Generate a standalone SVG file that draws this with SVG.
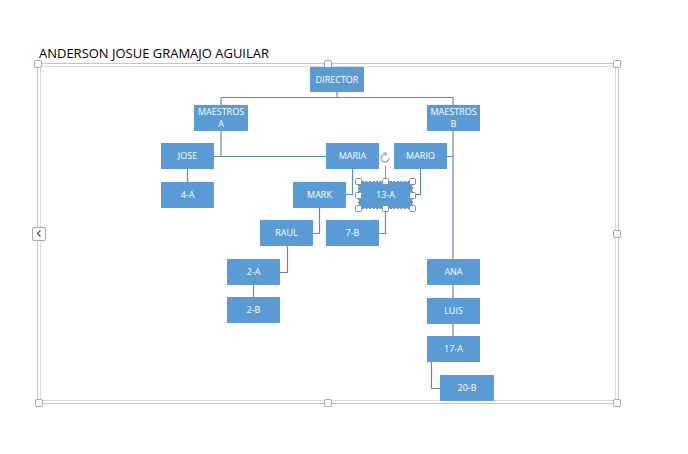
<svg xmlns="http://www.w3.org/2000/svg" width="688" height="454" viewBox="0 0 688 454">
<style>
.n{fill:#5b9bd5}
.t{font-family:"Open Sans","Liberation Sans",Arial,sans-serif;font-size:9px;fill:#ffffff;text-anchor:middle}
.c{fill:none;stroke:#5a8ac6;stroke-width:1.2}
.h{fill:#ffffff;stroke:#a6a6a6;stroke-width:1}
.sel{fill:#ffffff;stroke:#8c8c8c;stroke-width:1}
</style>
<rect width="688" height="454" fill="#ffffff"/>
<text x="39" y="58" font-family="Open Sans,Liberation Sans,Arial,sans-serif" font-size="12.4" fill="#000000" textLength="230" lengthAdjust="spacingAndGlyphs">ANDERSON JOSUE GRAMAJO AGUILAR</text>
<g id="frame">
<rect x="37.5" y="63.5" width="581" height="340" fill="none" stroke="#c4c4c4"/>
<rect x="40.5" y="66.5" width="575" height="334" fill="none" stroke="#dadada"/>
<rect class="h" x="34.5" y="60.5" width="7" height="7" rx="1.5"/>
<rect class="h" x="324.5" y="60.5" width="7" height="7" rx="1.5"/>
<rect class="h" x="613.5" y="60.5" width="7" height="7" rx="1.5"/>
<rect class="h" x="35.5" y="399.5" width="7" height="7" rx="1.5"/>
<rect class="h" x="324.5" y="399.5" width="7" height="7" rx="1.5"/>
<rect class="h" x="613.5" y="399.5" width="7" height="7" rx="1.5"/>
<rect class="h" x="613.5" y="230.5" width="7" height="7" rx="1.5"/>
<rect class="h" x="32.5" y="227.5" width="13" height="13" rx="1.5"/>
<path d="M40.5 230.5 L37.5 233.5 L40.5 236.5" fill="none" stroke="#555555" stroke-width="1.4"/>
</g>
<g id="connectors">
<path class="c" d="M337 92 V97.5 M221 97.5 H453 M221 97.5 V105 M453 97.5 V105"/>
<path class="c" d="M221 131 V156.5 M214 156.5 H326"/>
<path class="c" d="M453 131 V259 M447 156.5 H453"/>
<path class="c" d="M187.5 169 V182"/>
<path class="c" d="M352.5 169 V194.5 H346"/>
<path class="c" d="M420.5 169 V194.5 H412"/>
<path class="c" d="M319.5 208 V233.5 H313"/>
<path class="c" d="M385.5 208 V233.5 H379"/>
<path class="c" d="M287.5 246 V272.5 H280"/>
<path class="c" d="M253.5 285 V297"/>
<path class="c" d="M453 285 V298 M453 324 V336"/>
<path class="c" d="M431.5 362 V388.5 H440"/>
</g>
<g id="director"><rect class="n" x="310" y="67" width="54" height="25"/><text class="t" x="337" y="82.5">DIRECTOR</text></g>
<g id="maestros-a"><rect class="n" x="194" y="105" width="54" height="26"/><text class="t" x="221" y="115">MAESTROS</text><text class="t" x="221" y="126.5">A</text></g>
<g id="maestros-b"><rect class="n" x="427" y="105" width="53" height="26"/><text class="t" x="453.5" y="115">MAESTROS</text><text class="t" x="453.5" y="126.5">B</text></g>
<g id="jose"><rect class="n" x="161" y="143" width="53" height="26"/><text class="t" x="187.5" y="159">JOSE</text></g>
<g id="maria"><rect class="n" x="326" y="143" width="53" height="26"/><text class="t" x="352.5" y="159">MARIA</text></g>
<g id="mario"><rect class="n" x="394" y="143" width="53" height="26"/><text class="t" x="420.5" y="159">MARIO</text></g>
<g id="n4a"><rect class="n" x="161" y="182" width="53" height="26"/><text class="t" x="187.5" y="198">4-A</text></g>
<g id="mark"><rect class="n" x="293" y="182" width="53" height="26"/><text class="t" x="319.5" y="198">MARK</text></g>
<g id="n13a"><rect class="n" x="359" y="182" width="53" height="26"/><text class="t" x="385.5" y="198">13-A</text></g>
<g id="raul"><rect class="n" x="260" y="220" width="53" height="26"/><text class="t" x="286.5" y="236">RAUL</text></g>
<g id="n7b"><rect class="n" x="326" y="220" width="53" height="26"/><text class="t" x="352.5" y="236">7-B</text></g>
<g id="n2a"><rect class="n" x="227" y="259" width="53" height="26"/><text class="t" x="253.5" y="275">2-A</text></g>
<g id="n2b"><rect class="n" x="227" y="297" width="53" height="26"/><text class="t" x="253.5" y="313">2-B</text></g>
<g id="ana"><rect class="n" x="427" y="259" width="53" height="26"/><text class="t" x="453.5" y="275">ANA</text></g>
<g id="luis"><rect class="n" x="427" y="298" width="53" height="26"/><text class="t" x="453.5" y="314">LUIS</text></g>
<g id="n17a"><rect class="n" x="427" y="336" width="53" height="26"/><text class="t" x="453.5" y="352">17-A</text></g>
<g id="n20b"><rect class="n" x="440" y="375" width="54" height="26"/><text class="t" x="467" y="391">20-B</text></g>
<g id="selection">
<rect x="358.5" y="181.5" width="54" height="27" fill="none" stroke="#7f7f7f" stroke-width="1" stroke-dasharray="2,1.5"/>
<line x1="385.5" y1="166" x2="385.5" y2="179" stroke="#8c8c8c" stroke-width="1"/>
<path d="M389 158 A4 4 0 1 1 385.5 154" fill="none" stroke="#a6a6a6" stroke-width="1.4"/>
<path d="M384.5 151.8 L387 154 L384.5 156.2" fill="none" stroke="#a6a6a6" stroke-width="1.1"/>
<rect class="sel" x="355.5" y="178.5" width="6" height="6" rx="1.2"/>
<rect class="sel" x="382.5" y="178.5" width="6" height="6" rx="1.2"/>
<rect class="sel" x="409.5" y="178.5" width="6" height="6" rx="1.2"/>
<rect class="sel" x="355.5" y="192.5" width="6" height="6" rx="1.2"/>
<rect class="sel" x="409.5" y="192.5" width="6" height="6" rx="1.2"/>
<rect class="sel" x="355.5" y="205.5" width="6" height="6" rx="1.2"/>
<rect class="sel" x="382.5" y="205.5" width="6" height="6" rx="1.2"/>
<rect class="sel" x="409.5" y="205.5" width="6" height="6" rx="1.2"/>
</g>
</svg>
